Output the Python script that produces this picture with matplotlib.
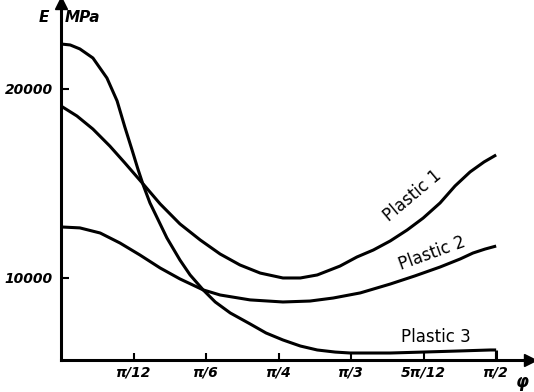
import numpy as np
import matplotlib
matplotlib.use("Agg")
import matplotlib.pyplot as plt

plt.rcParams['font.family'] = ['Liberation Sans Narrow', 'DejaVu Sans']

# angle phi in degrees, modulus E in MPa
phi_1 = [0, 3.3, 6.6, 10.1, 13.2, 17.0, 20.5, 24.6, 28.8, 32.9, 37.0, 41.2, 45.9, 49.5,
         53.0, 57.7, 61.2, 64.6, 68.1, 71.6, 74.9, 78.4, 81.5, 84.6, 87.5, 90.0]
E_1 = [19100, 18570, 17880, 16980, 16090, 14970, 13920, 12860, 12010, 11270, 10690, 10260, 10000, 10000,
       10160, 10630, 11110, 11480, 11960, 12540, 13170, 13970, 14870, 15610, 16140, 16510]

phi_2 = [0, 3.9, 8.1, 12.2, 16.3, 20.5, 24.6, 29.4, 32.9, 39.1, 45.9, 51.5, 56.3, 61.9,
         68.1, 73.2, 78.4, 82.6, 85.2, 87.7, 90.0]
E_2 = [12700, 12650, 12380, 11850, 11220, 10530, 9950, 9370, 9100, 8840, 8730, 8780, 8940, 9210,
       9680, 10110, 10580, 11010, 11320, 11530, 11690]

phi_3 = [0, 1.9, 3.9, 6.6, 9.5, 11.6, 13.2, 14.7, 15.9, 17.0, 18.4, 19.5, 21.9, 24.6, 26.7,
         29.4, 31.9, 35.0, 39.1, 42.4, 45.9, 49.5, 53.0, 56.7, 59.8, 68.1, 74.9, 82.6, 88.8, 90.0]
E_3 = [22380, 22330, 22120, 21640, 20580, 19370, 17990, 16770, 15770, 14920, 13970, 13390, 12120, 10950, 10160,
       9370, 8730, 8150, 7570, 7090, 6720, 6400, 6190, 6080, 6030, 6030, 6080, 6140, 6190, 6190]

x_ticks = [np.pi / 12 * k for k in range(1, 7)]
x_labels = ['π/12', 'π/6', 'π/4', 'π/3', '5π/12', 'π/2']
y_ticks = [10000, 20000]
y_labels = ['10000', '20000']

W, H = 534, 392
fig = plt.figure(figsize=(W / 100, H / 100), dpi=100)
ax = fig.add_axes([61 / W, 32 / H, 469 / W, 357 / H])

y_min, y_max = 5660, 24550
ax.set_xlim(0, np.radians(97))
ax.set_ylim(y_min, y_max)

lw = 2.2
for phi, E in [(phi_1, E_1), (phi_2, E_2), (phi_3, E_3)]:
    ax.plot(np.radians(phi), E, color='black', lw=lw, solid_joinstyle='round', solid_capstyle='butt')
# closing stroke of the Plastic 3 curve down to the axis
ax.vlines(np.radians(phi_3[-1]), y_min, E_3[-1], color='black', lw=lw)

for s in ['top', 'right']:
    ax.spines[s].set_visible(False)
for s in ['left', 'bottom']:
    ax.spines[s].set_linewidth(2.2)

# arrow heads on both axes
ax.plot(1, 0, '>', color='black', ms=8, transform=ax.transAxes, clip_on=False)
ax.plot(0, 1, '^', color='black', ms=8, transform=ax.transAxes, clip_on=False)

ax.set_xticks(x_ticks)
ax.set_xticklabels(x_labels, fontsize=10, fontweight='bold', fontstyle='italic')
ax.set_yticks(y_ticks)
ax.set_yticklabels(y_labels, fontsize=10, fontweight='bold', fontstyle='italic')
ax.tick_params(axis='x', direction='in', length=5, width=1.5, pad=4)
ax.tick_params(axis='y', direction='in', length=6, width=1.5, pad=6)


def px(x, y):
    return x / W, 1 - y / H


txt = dict(fontweight='bold', fontstyle='italic', color='black', ha='center', va='center')
fig.text(*px(44, 18), 'E', fontsize=11, **txt)
fig.text(*px(82, 18), 'MPa', fontsize=11, **txt)
fig.text(*px(522, 382), 'φ', fontsize=12, **txt)

lbl = dict(fontsize=12, color='black', ha='center', va='center', fontweight='medium')
fig.text(*px(413, 196), 'Plastic 1', rotation=40, **lbl)
fig.text(*px(432, 253), 'Plastic 2', rotation=20, **lbl)
fig.text(*px(436, 337), 'Plastic 3', rotation=0, **lbl)

fig.savefig('out.png', dpi=100)
